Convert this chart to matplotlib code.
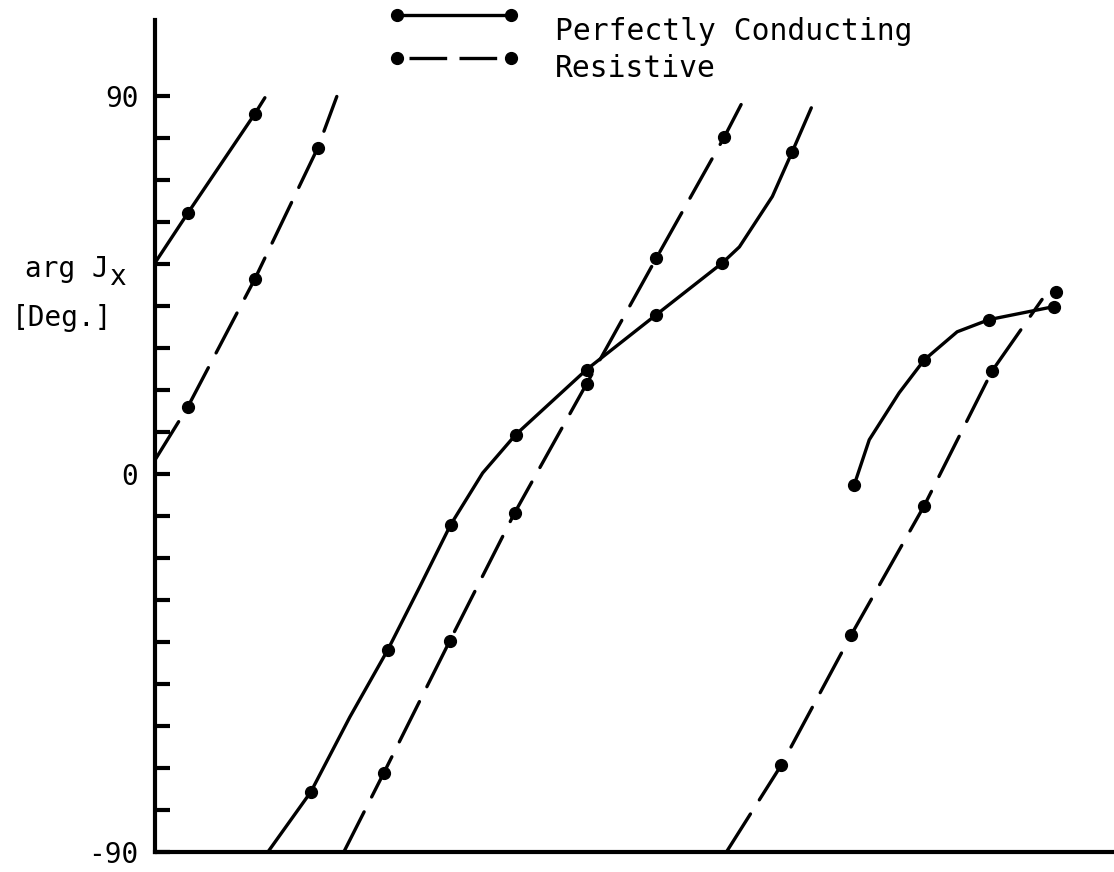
"""
arg Jx versus frequency: perfectly conducting vs resistive strip
"""
import matplotlib
matplotlib.use('Agg')
import matplotlib.pyplot as plt
from matplotlib.lines import Line2D
import numpy as np

plt.rcParams['font.family'] = 'DejaVu Sans Mono'

# perfectly conducting, three branches (x in arbitrary units, y in degrees)
pc_x = [
    [0.0, 3.3, 10.0, 11.0],
    [11.3, 15.6, 19.5, 23.3, 26.5, 29.6, 32.8, 36.1, 43.2, 50.2, 56.8,
     58.5, 61.8, 63.8, 65.7],
    [70.0, 71.5, 74.5, 77.0, 80.3, 83.5, 90.0],
]
pc_y = [
    [50.2, 62.1, 85.7, 89.5],
    [-90.0, -75.7, -57.9, -41.9, -26.9, -12.1, 0.2, 9.3, 24.8, 37.9, 50.2,
     54.0, 66.0, 76.7, 87.1],
    [-2.6, 8.1, 19.3, 27.1, 33.8, 36.7, 39.8],
]
pc_marks = [[1, 2], [1, 3, 5, 7, 8, 9, 10, 13], [0, 3, 5, 6]]

# resistive, three branches
res_x = [
    [0.0, 3.3, 10.0, 16.3, 18.2],
    [18.9, 22.9, 29.5, 36.0, 43.2, 50.2, 57.0, 58.7],
    [57.2, 62.7, 69.7, 77.0, 83.8, 88.8],
]
res_y = [
    [3.3, 16.0, 46.4, 77.6, 89.8],
    [-90.0, -71.2, -39.8, -9.3, 21.4, 51.4, 80.2, 88.0],
    [-90.0, -69.3, -38.3, -7.6, 24.5, 41.5],
]
res_marks = [[1, 2, 3], [1, 2, 3, 4, 5, 6], [1, 2, 3, 4]]
res_extra_x = [90.2]
res_extra_y = [43.3]

W, H = 1114, 872
fig = plt.figure(figsize=(W / 100, H / 100), dpi=100)
ax = fig.add_axes([155 / W, 20 / H, 1 - 155 / W, 832 / H])

lw = 2.4
ms = 8.5
dash = (0, (13.5, 5))
for xs, ys, mk in zip(pc_x, pc_y, pc_marks):
    ax.plot(xs, ys, color='black', lw=lw, solid_capstyle='round', solid_joinstyle='round')
    ax.plot(np.array(xs)[mk], np.array(ys)[mk], 'o', color='black', ms=ms)
for xs, ys, mk in zip(res_x, res_y, res_marks):
    ax.plot(xs, ys, color='black', lw=lw, linestyle=dash, dash_capstyle='round')
    ax.plot(np.array(xs)[mk], np.array(ys)[mk], 'o', color='black', ms=ms)
ax.plot(res_extra_x, res_extra_y, 'o', color='black', ms=ms)

ax.set_xlim(0, 96)
ax.set_ylim(-90, 108)
ax.spines['top'].set_visible(False)
ax.spines['right'].set_visible(False)
for s in ('left', 'bottom'):
    ax.spines[s].set_linewidth(3)
ax.set_xticks([])
yt = np.arange(-90, 91, 10)
ax.set_yticks(yt)
ax.set_yticklabels([str(v) if v in (-90, 0, 90) else '' for v in yt], fontsize=20)
ax.tick_params(axis='y', direction='in', length=11, width=3, pad=12)

# axis label, typed with a dropped "x"
fig.text(25 / W, 1 - 277 / H, 'arg J', fontsize=20, va='baseline', ha='left')
fig.text(110 / W, 1 - 285 / H, 'x', fontsize=20, va='baseline', ha='left')
fig.text(12 / W, 1 - 326 / H, '[Deg.]', fontsize=20, va='baseline', ha='left')

# hand-drawn style legend: dots on both ends of each sample line
fig.add_artist(Line2D([397 / W, 511 / W], [1 - 15 / H, 1 - 15 / H], transform=fig.transFigure,
                      color='black', lw=lw, marker='o', ms=ms))
fig.add_artist(Line2D([409 / W, 498 / W], [1 - 58 / H, 1 - 58 / H], transform=fig.transFigure,
                      color='black', lw=lw, linestyle=(0, (11.3, 3.7))))
fig.add_artist(Line2D([397 / W, 511 / W], [1 - 58 / H, 1 - 58 / H], transform=fig.transFigure,
                      color='black', lw=0, marker='o', ms=ms))
fig.text(555 / W, 1 - 40 / H, 'Perfectly Conducting', fontsize=21.3, va='baseline', ha='left')
fig.text(555 / W, 1 - 77 / H, 'Resistive', fontsize=21.3, va='baseline', ha='left')

fig.savefig('out.png', dpi=100)
